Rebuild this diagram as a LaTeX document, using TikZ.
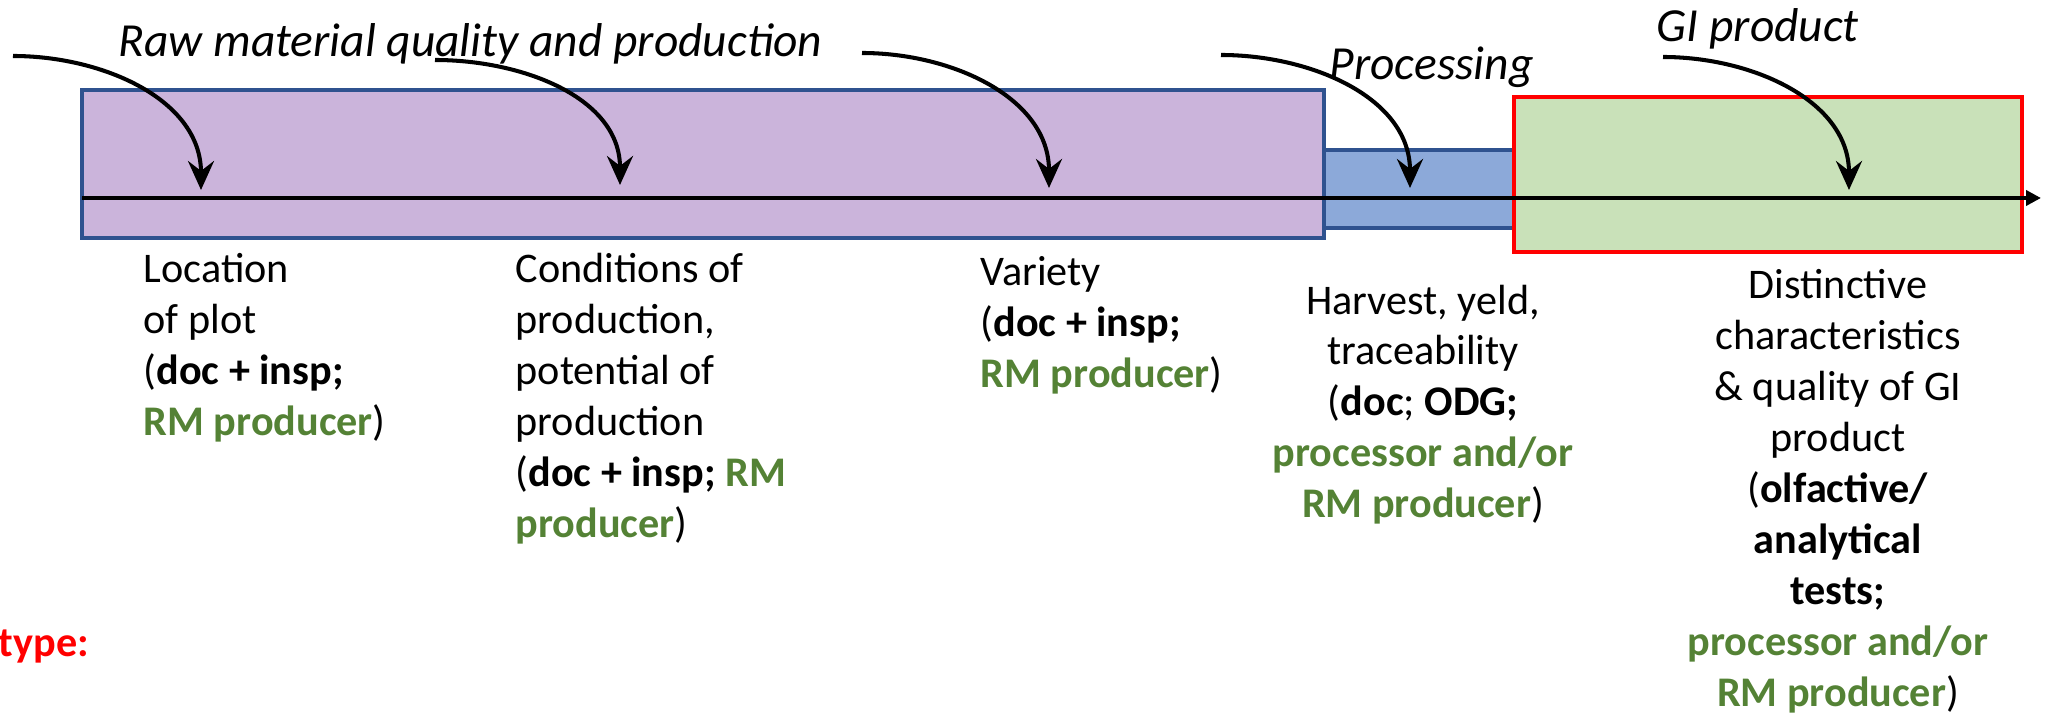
\documentclass[tikz,border=0pt]{standalone}
\usepackage{fontspec}
\setmainfont{Carlito}
\usetikzlibrary{arrows.meta,positioning}
\definecolor{rmgreen}{RGB}{84,130,53}
\definecolor{rmpurple}{RGB}{203,180,219}
\definecolor{procblue}{RGB}{140,169,217}
\definecolor{gigreen}{RGB}{201,225,185}
\definecolor{edgeblue}{RGB}{47,82,143}
\newcommand{\gr}[1]{\textcolor{rmgreen}{\textbf{#1}}}

\begin{document}
\begin{tikzpicture}[x=0.01cm, y=0.01cm,
    body/.style={inner sep=0pt, font=\fontsize{12}{14.5}\selectfont},
    stage/.style={inner sep=0pt, anchor=base west, font=\fontsize{13.5}{16}\selectfont\itshape},
    bendarrow/.style={line width=1.15pt, -{Stealth[length=2.9mm, width=2.6mm, inset=1mm]}}]
        \useasboundingbox (0,0) rectangle (2047,-716);

        %boxes of the three stages
        \draw[fill=rmpurple, draw=edgeblue, line width=1pt] (82,-90) rectangle (1324,-238);
        \draw[fill=procblue, draw=edgeblue, line width=1pt] (1324,-150) rectangle (1514,-228);
        \draw[fill=gigreen, draw=red, line width=1pt] (1514,-97) rectangle (2022,-252);

        %time line
        \coordinate (t_start) at (82,-198);
        \coordinate (t_end) at (2041,-198);
        \draw[line width=1.4pt, -{Triangle[length=1.5mm, width=1.5mm]}] (t_start) -- (t_end);

        %stage titles
        \node[stage] (raw) at (118,-57) {Raw material quality and production};
        \node[stage] (proc) at (1329,-80) {Processing};
        \node[stage] (gi) at (1656,-42) {GI product};

        %checked points
        \node[body, anchor=north west, align=left] (c_1) at (143,-253) {Location\\of plot\\(\textbf{doc + insp;}\\\gr{RM producer})};
        \node[body, anchor=north west, align=left] (c_2) at (515,-253) {Conditions of\\production,\\potential of\\production\\(\textbf{doc + insp;} \gr{RM}\\\gr{producer})};
        \node[body, anchor=north west, align=left] (c_3) at (980,-256) {Variety\\(\textbf{doc + insp;}\\\gr{RM producer})};
        \node[body, anchor=north, align=center] (c_4) at (1423,-284) {Harvest, yeld,\\traceability\\(\textbf{doc}; \textbf{ODG;}\\\gr{processor and/or}\\\gr{RM producer})};
        \node[body, anchor=north, align=center] (c_5) at (1838,-269) {Distinctive\\characteristics\\\& quality of GI\\product\\(\textbf{olfactive/}\\\textbf{analytical}\\\textbf{tests;}\\\gr{processor and/or}\\\gr{RM producer})};

        \node[body, anchor=base west, text=red, font=\fontsize{12}{14.5}\selectfont\bfseries] (kind) at (-2,-657) {type:};

        %arrows onto the time line
        \coordinate (s_1) at (13,-56);   \coordinate (e_1) at (201,-190);
        \coordinate (s_2) at (435,-60);  \coordinate (e_2) at (620,-185);
        \coordinate (s_3) at (862,-53);  \coordinate (e_3) at (1049,-188);
        \coordinate (s_4) at (1221,-55); \coordinate (e_4) at (1410,-188);
        \coordinate (s_5) at (1663,-57); \coordinate (e_5) at (1849,-190);
        \foreach \i in {1,...,5}
            \draw[bendarrow] (s_\i) to[out=0, in=90] (e_\i);
    \end{tikzpicture}
\end{document}
